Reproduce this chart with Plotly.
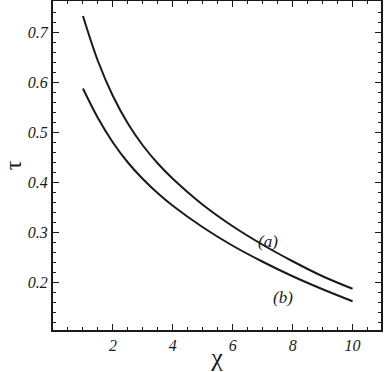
import plotly.graph_objects as go

chi = [1, 1.5, 2, 2.5, 3, 3.5, 4, 5, 6, 7, 8, 9, 10]
tau_a = [0.732, 0.642, 0.572, 0.517, 0.473, 0.437, 0.4065, 0.3545, 0.3115, 0.2745, 0.2415, 0.2115, 0.1865]
tau_b = [0.587, 0.528, 0.479, 0.439, 0.406, 0.3775, 0.3525, 0.3095, 0.2725, 0.2405, 0.2115, 0.1855, 0.1615]
x_ticks = [2, 4, 6, 8, 10]
y_ticks = [0.2, 0.3, 0.4, 0.5, 0.6, 0.7]
labels = ["(a)", "(b)"]
label_pos = [(7.17, 0.282), (7.67, 0.170)]

font_serif = "Liberation Serif"
ink = "#1a1a1a"
fig = go.Figure()
for ys in (tau_a, tau_b):
    fig.add_trace(go.Scatter(x=chi, y=ys, mode="lines",
                             line=dict(color=ink, width=2, shape="spline", smoothing=1.0),
                             showlegend=False, hoverinfo="skip"))

for txt, (lx, ly) in zip(labels, label_pos):
    fig.add_annotation(x=lx, y=ly, text=f"<i>{txt}</i>", showarrow=False,
                       font=dict(family=font_serif, size=17, color=ink))

axis_common = dict(showline=True, linecolor=ink, linewidth=2, mirror="allticks",
                   ticks="inside", ticklen=6, tickwidth=1, tickcolor=ink,
                   showgrid=False, zeroline=False, automargin=False,
                   tickfont=dict(family=font_serif, size=16, color=ink, style="italic"))

fig.update_xaxes(range=[0, 10.95], tickvals=x_ticks, ticktext=[str(v) for v in x_ticks],
                 minor=dict(dtick=0.5, tick0=0, ticks="inside", ticklen=3, tickcolor=ink),
                 title=dict(text="χ", font=dict(family=font_serif, size=26, color=ink), standoff=0),
                 **axis_common)
fig.update_yaxes(range=[0.104, 0.762], tickvals=y_ticks, ticktext=[f"{v:.1f}" for v in y_ticks],
                 minor=dict(dtick=0.02, tick0=0, ticks="inside", ticklen=3, tickcolor=ink),
                 title=dict(text="τ", font=dict(family=font_serif, size=24, color=ink), standoff=9),
                 **axis_common)

fig.update_layout(width=384, height=372, margin=dict(l=53, r=3, t=1, b=42),
                  plot_bgcolor="white", paper_bgcolor="white")
fig.write_html("out.html", config={"displayModeBar": False},
               post_script="document.body.style.margin='0';")
